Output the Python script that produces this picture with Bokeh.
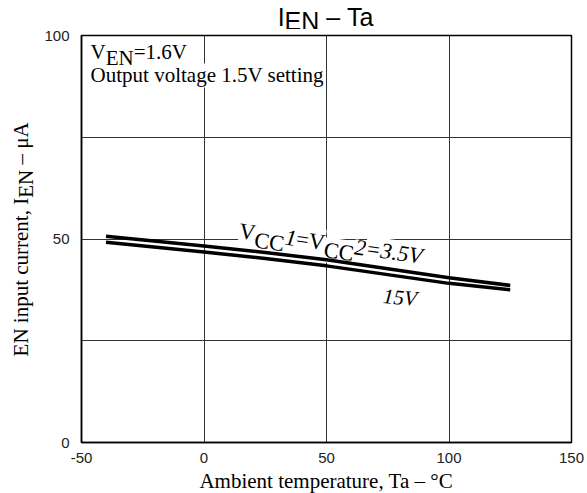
import math
from bokeh.plotting import figure
from bokeh.models import Range1d, FixedTicker, Label
from bokeh.layouts import row, column
from bokeh.embed import file_html
from bokeh.resources import INLINE

# ---- data ----
temp = [-40, 0, 25, 50, 100, 125]
i_en_3v5 = [50.7, 48.3, 46.7, 44.9, 40.5, 38.6]
i_en_15v = [49.2, 46.8, 45.2, 43.4, 39.1, 37.5]
x_ticks = [-50, 0, 50, 100, 150]
y_ticks = [0, 50, 100]
x_grid = [0, 50, 100]
y_grid = [25, 50, 75]

SERIF = "Liberation Serif"
SANS = "Liberation Sans"
NB = "\u00a0"

W_SERIF = {'A': .722, 'm': .778, 'b': .5, 'i': .278, 'e': .444, 'n': .5, 't': .278, ' ': .25, NB: .25,
           'p': .5, 'r': .333, 'a': .444, 'u': .5, ',': .25, 'T': .611, '–': .5, '°': .4,
           'C': .667, 'E': .611, 'N': .722, 'c': .444, 'I': .333, 'μ': .576, 'V': .722,
           '1': .5, '2': .5, '3': .5, '5': .5, '6': .5, '.': .25, '=': .564, 'O': .722,
           'v': .5, 'o': .5, 'l': .278, 'g': .5, 's': .389}
W_SANS = {'I': .278, 'E': .667, 'N': .722, ' ': .278, NB: .278, '–': .556, 'T': .611, 'a': .556}

RAISE = 0.27   # empirical shift so that the anchor sits on the text baseline
STRIP_DX = -12  # empirical horizontal correction for the text strips


def tw(s, size, table):
    return sum(table.get(c, 0.5) for c in s) * size


def compose(p, pieces, x, y, angle_deg, font, size, table, center=False, bg=None, level=None, dx=0.0):
    th = math.radians(angle_deg)
    total = sum(tw(t, size, table) for t, _, _ in pieces)
    adv = -total / 2 if center else 0.0
    for text, drop, style in pieces:
        d = drop - RAISE * size
        ox = adv * math.cos(th) + d * math.sin(th) + dx
        oy = adv * math.sin(th) - d * math.cos(th)
        lab = Label(x=x, y=y, x_offset=ox, y_offset=oy, text=text, angle=th,
                    text_font=font, text_font_size=f"{size}px", text_font_style=style,
                    text_baseline="alphabetic", text_align="left", text_color="black")
        if bg:
            lab.background_fill_color = bg
        if level:
            lab.level = level
        p.add_layout(lab)
        adv += tw(text, size, table)


def text_fig(w, h):
    f = figure(width=w, height=h, x_range=Range1d(0, w), y_range=Range1d(0, h),
               output_backend="svg", toolbar_location=None,
               x_axis_location=None, y_axis_location=None, min_border=0)
    f.outline_line_color = None
    for g in f.grid:
        g.visible = False
    return f


# ---- main plot ----
LEFT_W = 37
MAIN_W = 587 - LEFT_W
TITLE_H = 29
XLAB_H = 27
MAIN_H = 493 - TITLE_H - XLAB_H

p = figure(width=MAIN_W, height=MAIN_H, output_backend="svg", toolbar_location=None,
           x_range=Range1d(-50, 150), y_range=Range1d(0, 100),
           min_border_left=81 - LEFT_W, min_border_right=16,
           min_border_top=35 - TITLE_H, min_border_bottom=(493 - XLAB_H) - 442)
p.background_fill_color = "white"
p.border_fill_color = "white"
p.outline_line_color = "black"
p.outline_line_width = 1.5

p.xaxis.ticker = FixedTicker(ticks=x_ticks)
p.yaxis.ticker = FixedTicker(ticks=y_ticks)
p.xaxis.major_label_overrides = {-50: "-50"}
for ax in (p.xaxis, p.yaxis):
    ax.major_tick_line_color = None
    ax.minor_tick_line_color = None
    ax.axis_line_color = "black"
    ax.axis_line_width = 1.5
    ax.major_label_text_font = SANS
    ax.major_label_text_font_size = "15px"
    ax.major_label_text_color = "#222222"
p.xaxis.major_label_standoff = 4
p.yaxis.major_label_standoff = 6

p.xgrid.ticker = FixedTicker(ticks=x_grid)
p.ygrid.ticker = FixedTicker(ticks=y_grid)
for g in (p.xgrid, p.ygrid):
    g.grid_line_color = "#333333"
    g.grid_line_width = 1

p.line(temp, i_en_3v5, line_color="black", line_width=3.5)
p.line(temp, i_en_15v, line_color="black", line_width=3.5)

# annotations inside the frame
compose(p, [("Output voltage 1.5V setting", 0, "normal")], -46.3, 88.8, 0, SERIF, 21, W_SERIF,
        bg="white", level="underlay")
compose(p, [("V", 0, "normal"), ("EN", 6, "normal"), ("=1.6V", 0, "normal")],
        -46.3, 94.6, 0, SERIF, 21, W_SERIF, bg="white", level="underlay")
compose(p, [("V", 0, "normal"), ("CC", 7, "normal"), ("1", 0, "italic"), ("=", 0, "normal"),
            ("V", 0, "normal"), ("CC", 7, "normal"), ("2", 0, "italic"), ("=3.5V", 0, "italic")],
        14.1, 50.6, -8, SERIF, 22.5, W_SERIF, bg="white", level="underlay")
compose(p, [("15V", 0, "italic")], 72.9, 34.6, -5, SERIF, 21, W_SERIF, bg="white", level="underlay")

# ---- title strip ----
t = text_fig(MAIN_W, TITLE_H)
compose(t, [("I", 0, "normal"), ("EN", 3.5, "normal"), (NB + "–" + NB + "Ta", 0, "normal")],
        326 - LEFT_W, TITLE_H - 23.5, 0, SANS, 25, W_SANS, center=True, dx=STRIP_DX)

# ---- x axis label strip ----
xl = text_fig(MAIN_W, XLAB_H)
compose(xl, [("Ambient temperature, Ta – °C", 0, "normal")],
        326 - LEFT_W, 493 - 486, 0, SERIF, 21, W_SERIF, center=True, dx=STRIP_DX)

# ---- y axis label strip ----
yl = text_fig(LEFT_W, 493)
compose(yl, [("EN input current, I", 0, "normal"), ("EN", 5, "normal"), (NB + "–" + NB + "μA", 0, "normal")],
        26, 493 - 238.5, 90, SERIF, 21, W_SERIF, center=True)

layout = row(yl, column(t, p, xl))
open("out.html", "w").write(file_html(layout, INLINE))
